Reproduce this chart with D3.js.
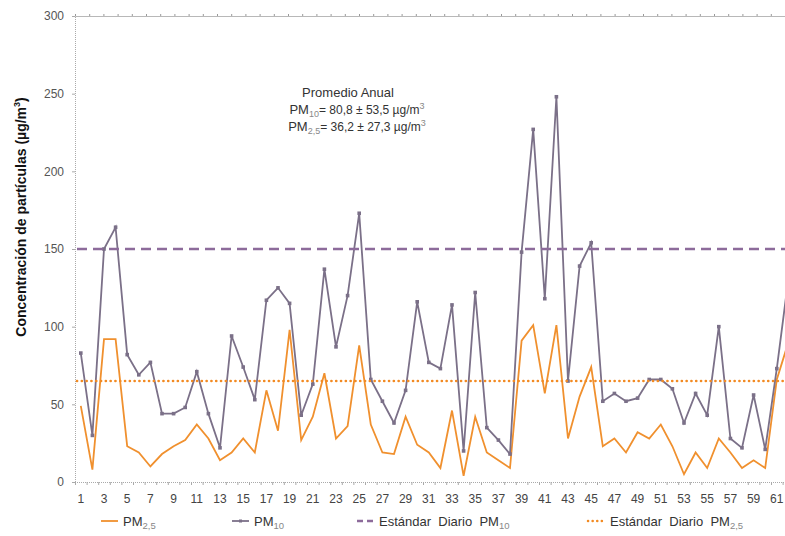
<!DOCTYPE html>
<html>
<head>
<meta charset="utf-8">
<script src="https://cdnjs.cloudflare.com/ajax/libs/d3/7.8.5/d3.min.js"></script>
<style>
  body { margin: 0; background: #fff; }
  text { font-family: "Liberation Sans", Arial, sans-serif; }
</style>
</head>
<body>
<svg width="785" height="536"></svg>
<script>
// dias de muestreo (el grafico original queda cortado despues del 61)
var days = d3.range(1, 63);

var pm10 = [83, 30, 150, 164, 82, 69, 77, 44, 44, 48,
            71, 44, 22, 94, 74, 53, 117, 125, 115, 43,
            63, 137, 87, 120, 173, 66, 52, 38, 59, 116,
            77, 73, 114, 20, 122, 35, 27, 18, 148, 227,
            118, 248, 65, 139, 154, 52, 57, 52, 54, 66,
            66, 60, 38, 57, 43, 100, 28, 22, 56, 21,
            73, 131];

var pm25 = [49, 8, 92, 92, 23, 19, 10, 18, 23, 27,
            37, 28, 14, 19, 28, 19, 59, 33, 98, 27,
            42, 70, 28, 36, 88, 37, 19, 18, 42, 24,
            19, 9, 46, 4, 42, 19, 14, 9, 91, 101,
            57, 101, 28, 55, 74, 23, 28, 19, 32, 28,
            37, 23, 5, 19, 9, 28, 19, 9, 14, 9,
            66, 90];

var stdPM10 = 150;
var stdPM25 = 65;

var yTicks = [0, 50, 100, 150, 200, 250, 300];
var xLabels = d3.range(1, 62, 2);

var colPM10 = "#7b7088",
    colPM25 = "#f0902e",
    colStd10 = "#8d6b9b",
    colStd25 = "#f28a22";

var svg = d3.select("svg"),
    plotLeft = 75, plotTop = 16, plotBottom = 482, plotRight = 785;

var step = 11.6;
var x = d3.scalePoint()
          .domain(days)
          .range([plotLeft + step / 2, plotLeft + step / 2 + step * (days.length - 1)]);

var y = d3.scaleLinear()
          .domain([0, 300])
          .range([plotBottom, plotTop]);

// top frame line with little ticks
var xTop = d3.scaleLinear().domain([0, 50]).range([plotLeft, plotLeft + 50 * 14.2]);
var topAxis = svg.append("g")
                 .attr("transform", "translate(0," + plotTop + ")")
                 .call(d3.axisTop(xTop).ticks(50).tickSize(2).tickFormat(""));
topAxis.select(".domain").attr("stroke", "#b8b8b8");
topAxis.selectAll(".tick line").attr("stroke", "#999");

// left axis
var leftAxis = svg.append("g")
                  .attr("transform", "translate(" + plotLeft + ",0)")
                  .call(d3.axisLeft(y).tickValues(yTicks).tickSize(3).tickPadding(8));
leftAxis.select(".domain").attr("stroke", "#aaa").attr("stroke-dasharray", "1,1");
leftAxis.selectAll(".tick line").attr("stroke", "#aaa");
leftAxis.selectAll(".tick text")
        .attr("fill", "#555")
        .style("font-size", "12px");

// bottom axis
var boundaries = d3.scaleLinear().domain([0, 62]).range([plotLeft, plotLeft + 62 * step]);
var bottomAxis = svg.append("g")
                    .attr("transform", "translate(0," + plotBottom + ")")
                    .call(d3.axisBottom(boundaries).ticks(62).tickSize(3).tickFormat(""));
bottomAxis.select(".domain").attr("stroke", "#aaa").attr("stroke-dasharray", "1,1");
bottomAxis.selectAll(".tick line").attr("stroke", "#aaa");

svg.append("g")
   .selectAll("text")
   .data(xLabels)
   .enter().append("text")
   .attr("x", function(d) { return x(d); })
   .attr("y", plotBottom + 21)
   .attr("text-anchor", "middle")
   .attr("fill", "#444")
   .style("font-size", "12px")
   .text(function(d) { return d; });

// y title
var yTitle = svg.append("text")
   .attr("transform", "translate(26,217) rotate(-90)")
   .attr("text-anchor", "middle")
   .attr("fill", "#111")
   .style("font-size", "14px")
   .style("font-weight", "bold");
yTitle.append("tspan").text("Concentración de partículas (µg/m");
yTitle.append("tspan").attr("dy", -6).style("font-size", "9px").text("3");
yTitle.append("tspan").attr("dy", 6).text(")");

var line = function(values) {
    return d3.line()
             .x(function(d, i) { return x(days[i]); })
             .y(function(d) { return y(d); })(values);
};

var plot = svg.append("g");

plot.append("path")
    .attr("d", line(pm25))
    .attr("fill", "none")
    .attr("stroke", colPM25)
    .attr("stroke-width", 1.8)
    .attr("stroke-linejoin", "miter");

plot.append("path")
    .attr("d", line(pm10))
    .attr("fill", "none")
    .attr("stroke", colPM10)
    .attr("stroke-width", 1.8);

plot.selectAll("rect.mk")
    .data(pm10)
    .enter().append("rect")
    .attr("class", "mk")
    .attr("x", function(d, i) { return x(days[i]) - 1.8; })
    .attr("y", function(d) { return y(d) - 1.8; })
    .attr("width", 3.6)
    .attr("height", 3.6)
    .attr("fill", colPM10);

plot.append("line")
    .attr("x1", plotLeft + 2).attr("x2", plotRight)
    .attr("y1", y(stdPM10)).attr("y2", y(stdPM10))
    .attr("stroke", colStd10)
    .attr("stroke-width", 2.5)
    .attr("stroke-dasharray", "10,6");

plot.append("line")
    .attr("x1", plotLeft + 2).attr("x2", plotRight)
    .attr("y1", y(stdPM25)).attr("y2", y(stdPM25))
    .attr("stroke", colStd25)
    .attr("stroke-width", 2.6)
    .attr("stroke-linecap", "round")
    .attr("stroke-dasharray", "0.1,4.7");

// annotation
var note = svg.append("g").style("font-size", "12px").attr("fill", "#333");
note.append("text").attr("x", 348).attr("y", 97)
    .attr("text-anchor", "middle").style("font-size", "13px").text("Promedio Anual");

function subLine(yPos, sub, rest) {
    var t = note.append("text").attr("x", 357).attr("y", yPos).attr("text-anchor", "middle");
    t.append("tspan").style("font-size", "13px").text("PM");
    t.append("tspan").attr("dy", 3).style("font-size", "9px").attr("fill", "#888").text(sub);
    t.append("tspan").attr("dy", -3).text("= " + rest + " µg/m");
    t.append("tspan").attr("dy", -5).style("font-size", "9px").attr("fill", "#888").text("3");
}
subLine(114, "10", "80,8 ± 53,5");
subLine(131, "2,5", "36,2 ± 27,3");

// legend
var legendItems = [
    { x: 101, color: colPM25, dash: null, w: 1.8, label: "PM", sub: "2,5", marker: false },
    { x: 232, color: colPM10, dash: null, w: 1.8, label: "PM", sub: "10", marker: true },
    { x: 357, color: colStd10, dash: "6,4", w: 2.5, label: "Estándar  Diario  PM", sub: "10", marker: false },
    { x: 588, color: colStd25, dash: "0.1,4.5", w: 2.5, label: "Estándar  Diario  PM", sub: "2,5", marker: false }
];

var legend = svg.append("g");
legendItems.forEach(function(it) {
    legend.append("line")
          .attr("x1", it.x).attr("x2", it.x + 17)
          .attr("y1", 521).attr("y2", 521)
          .attr("stroke", it.color)
          .attr("stroke-width", it.w)
          .attr("stroke-linecap", it.dash && it.dash.indexOf("0.1") == 0 ? "round" : "butt")
          .attr("stroke-dasharray", it.dash);
    if (it.marker) {
        legend.append("rect")
              .attr("x", it.x + 7).attr("y", 519.5)
              .attr("width", 3).attr("height", 3)
              .attr("fill", it.color);
    }
    var t = legend.append("text")
                  .attr("x", it.x + 22).attr("y", 526)
                  .attr("fill", "#333")
                  .style("font-size", "13px")
                  .style("white-space", "pre")
                  .attr("xml:space", "preserve");
    t.append("tspan").text(it.label);
    t.append("tspan").attr("dy", 3).style("font-size", "9.5px").attr("fill", "#888").text(it.sub);
});
</script>
</body>
</html>
